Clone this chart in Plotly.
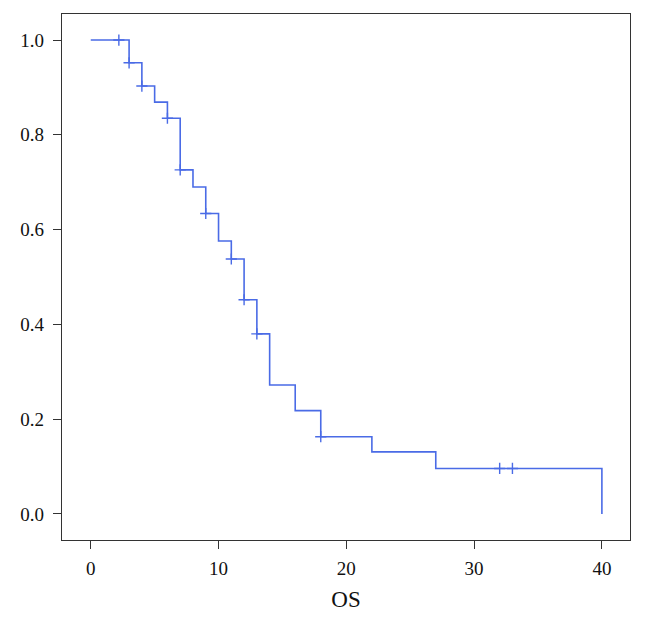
import plotly.graph_objects as go

# Kaplan-Meier step data
step_times = [0, 3, 4, 5, 6, 7, 8, 9, 10, 11, 12, 13, 14, 16, 18, 22, 27, 40]
step_surv = [1.0, 0.952, 0.903, 0.869, 0.835, 0.726, 0.690, 0.634, 0.576, 0.538,
             0.452, 0.380, 0.272, 0.218, 0.163, 0.131, 0.096, 0.0]

# censored observations
censor_times = [2.2, 3, 4, 6, 7, 9, 11, 12, 13, 18, 32, 33]
censor_surv = [1.0, 0.952, 0.903, 0.835, 0.726, 0.634, 0.538, 0.452, 0.380, 0.163, 0.096, 0.096]

x_ticks = [0, 10, 20, 30, 40]
y_ticks = [0.0, 0.2, 0.4, 0.6, 0.8, 1.0]
y_tick_labels = ["0.0", "0.2", "0.4", "0.6", "0.8", "1.0"]

color = "#4a6be6"

fig = go.Figure()
fig.add_trace(go.Scatter(
    x=step_times, y=step_surv, mode="lines",
    line=dict(shape="hv", color=color, width=1.6),
    showlegend=False, hoverinfo="skip"))
fig.add_trace(go.Scatter(
    x=censor_times, y=censor_surv, mode="markers",
    marker=dict(symbol="cross-thin", size=8, line=dict(color=color, width=1.4)),
    showlegend=False))

font_family = "Liberation Serif, DejaVu Serif, serif"
fig.update_layout(
    width=637, height=614,
    margin=dict(l=54, r=15, t=6, b=82),
    paper_bgcolor="white", plot_bgcolor="white",
    font=dict(family=font_family, size=19, color="#111"),
    xaxis=dict(range=[-2.25, 42.2], tickvals=x_ticks, ticks="outside", ticklen=8,
               tickcolor="#333", showline=True, linecolor="#333", linewidth=1.2,
               mirror=True, showgrid=False, zeroline=False,
               ticklabelstandoff=3,
               title=dict(text="OS", standoff=12)),
    yaxis=dict(range=[-0.055, 1.055], tickvals=y_ticks, ticktext=y_tick_labels,
               ticks="outside", ticklen=8, tickcolor="#333", showline=True,
               linecolor="#333", linewidth=1.2, mirror=True, showgrid=False,
               ticklabelstandoff=5, zeroline=False),
)

fig.write_html("out.html")
